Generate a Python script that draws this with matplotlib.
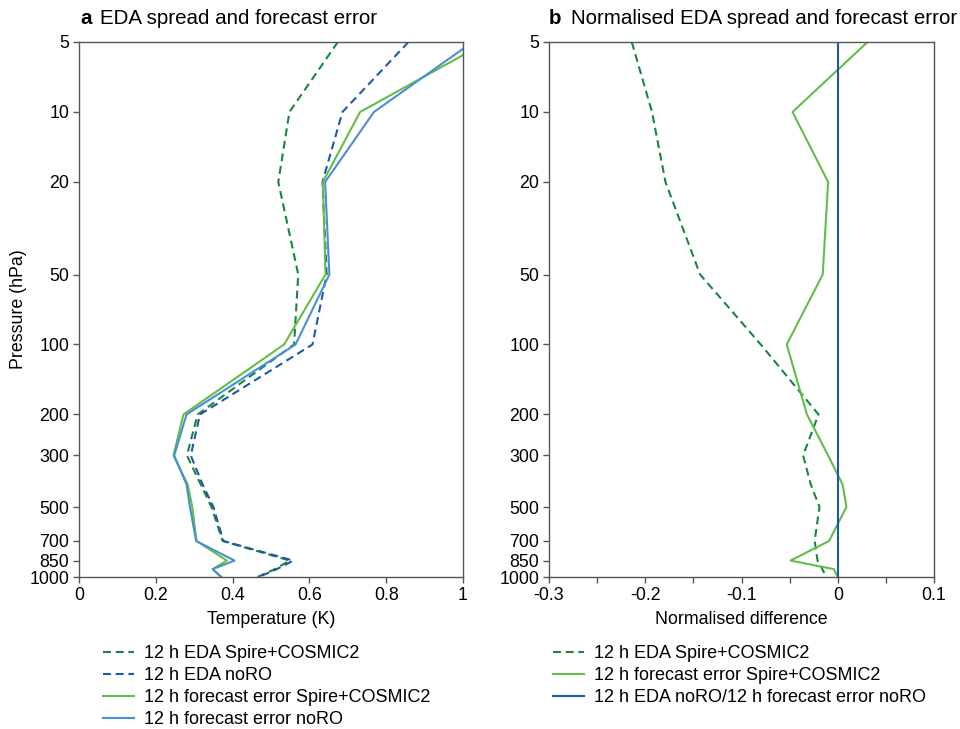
import numpy as np
import matplotlib
matplotlib.use("Agg")
import matplotlib.pyplot as plt
from matplotlib.ticker import FixedLocator, NullLocator, MultipleLocator

plt.rcParams["font.family"] = ["Liberation Sans", "DejaVu Sans"]

# pressure levels (hPa)
levels = [5, 10, 20, 50, 100, 200, 300, 400, 500, 700, 850, 925, 1000]
ytick_vals = [5, 10, 20, 50, 100, 200, 300, 500, 700, 850, 1000]

# panel a: temperature (K)
eda_spire = [0.674, 0.548, 0.519, 0.571, 0.560, 0.309, 0.281, 0.317, 0.345, 0.374, 0.549, 0.51, 0.465]
eda_noro = [0.858, 0.686, 0.634, 0.645, 0.608, 0.315, 0.291, 0.322, 0.350, 0.376, 0.558, 0.515, 0.468]
fc_spire = [1.062, 0.732, 0.635, 0.642, 0.534, 0.272, 0.246, 0.283, 0.295, 0.306, 0.385, 0.348, 0.370]
fc_noro = [1.025, 0.768, 0.641, 0.652, 0.564, 0.280, 0.248, 0.280, 0.289, 0.305, 0.405, 0.348, 0.371]

# panel b: normalised difference
norm_eda_spire = [-0.214, -0.193, -0.179, -0.143, -0.080, -0.020, -0.036, -0.028, -0.019, -0.024, -0.021, -0.016, -0.012]
norm_fc_spire = [0.031, -0.047, -0.010, -0.0156, -0.053, -0.032, -0.010, 0.005, 0.009, -0.009, -0.049, -0.004, 0.0]
norm_ref = [0.0] * len(levels)

c_dgreen = "#16873d"
c_dblue = "#2057a8"
c_lgreen = "#63bd46"
c_lblue = "#4a8fd6"
dash = (0, (3.8, 2.3))
lw = 1.5
fs = 12.8

fig = plt.figure(figsize=(9.6, 7.29), dpi=100)
ax1 = fig.add_axes([79 / 960, 1 - 577 / 729, 384 / 960, 535 / 729])
ax2 = fig.add_axes([549 / 960, 1 - 577 / 729, 385 / 960, 535 / 729])

ax1.plot(eda_spire, levels, color=c_dgreen, ls=dash, lw=lw, label="12 h EDA Spire+COSMIC2")
ax1.plot(eda_noro, levels, color=c_dblue, ls=dash, lw=lw, label="12 h EDA noRO")
ax1.plot(fc_spire, levels, color=c_lgreen, lw=lw, label="12 h forecast error Spire+COSMIC2")
ax1.plot(fc_noro, levels, color=c_lblue, lw=lw, label="12 h forecast error noRO")

ax2.plot(norm_eda_spire, levels, color=c_dgreen, ls=dash, lw=lw, label="12 h EDA Spire+COSMIC2")
ax2.plot(norm_fc_spire, levels, color=c_lgreen, lw=lw, label="12 h forecast error Spire+COSMIC2")
ax2.plot(norm_ref, levels, color=c_dblue, lw=lw, label="12 h EDA noRO/12 h forecast error noRO")

for ax in (ax1, ax2):
    ax.set_yscale("log")
    ax.set_ylim(1000, 5)
    ax.yaxis.set_major_locator(FixedLocator(ytick_vals))
    ax.yaxis.set_minor_locator(NullLocator())
    ax.set_yticklabels([str(v) for v in ytick_vals])
    for s in ax.spines.values():
        s.set_color("#555555")
        s.set_linewidth(1.0)
    ax.tick_params(which="both", direction="out", color="#555555", labelsize=fs,
                   length=4, width=1.0, pad=3)

ax1.set_xlim(0, 1)
ax1.set_xticks([0, 0.2, 0.4, 0.6, 0.8, 1])
ax1.set_xticklabels(["0", "0.2", "0.4", "0.6", "0.8", "1"])
ax1.set_xlabel("Temperature (K)", fontsize=fs, labelpad=5)
ax1.set_ylabel("Pressure (hPa)", fontsize=fs, labelpad=2)

ax2.set_xlim(-0.3, 0.1)
ax2.set_xticks([-0.3, -0.2, -0.1, 0, 0.1])
ax2.set_xticklabels(["-0.3", "-0.2", "-0.1", "0", "0.1"])
ax2.xaxis.set_minor_locator(MultipleLocator(0.05))
ax2.set_xlabel("Normalised difference", fontsize=fs, labelpad=5)

fig.text(80 / 960, 1 - 24 / 729, "a", fontsize=14.8, fontweight="bold", va="baseline")
fig.text(100 / 960, 1 - 24 / 729, "EDA spread and forecast error", fontsize=14.8, va="baseline")
fig.text(549 / 960, 1 - 24 / 729, "b", fontsize=14.8, fontweight="bold", va="baseline")
fig.text(571 / 960, 1 - 24 / 729, "Normalised EDA spread and forecast error", fontsize=14.8, va="baseline")

leg_kw = dict(frameon=False, fontsize=13, loc="upper left", borderpad=0, borderaxespad=0,
              handlelength=1.7, handletextpad=0.55, labelspacing=0.28)
fig.legend(*ax1.get_legend_handles_labels(), bbox_to_anchor=(103 / 960, 1 - 645 / 729), **leg_kw)
fig.legend(*ax2.get_legend_handles_labels(), bbox_to_anchor=(553 / 960, 1 - 645 / 729), **leg_kw)

fig.savefig("out.png", dpi=100)
